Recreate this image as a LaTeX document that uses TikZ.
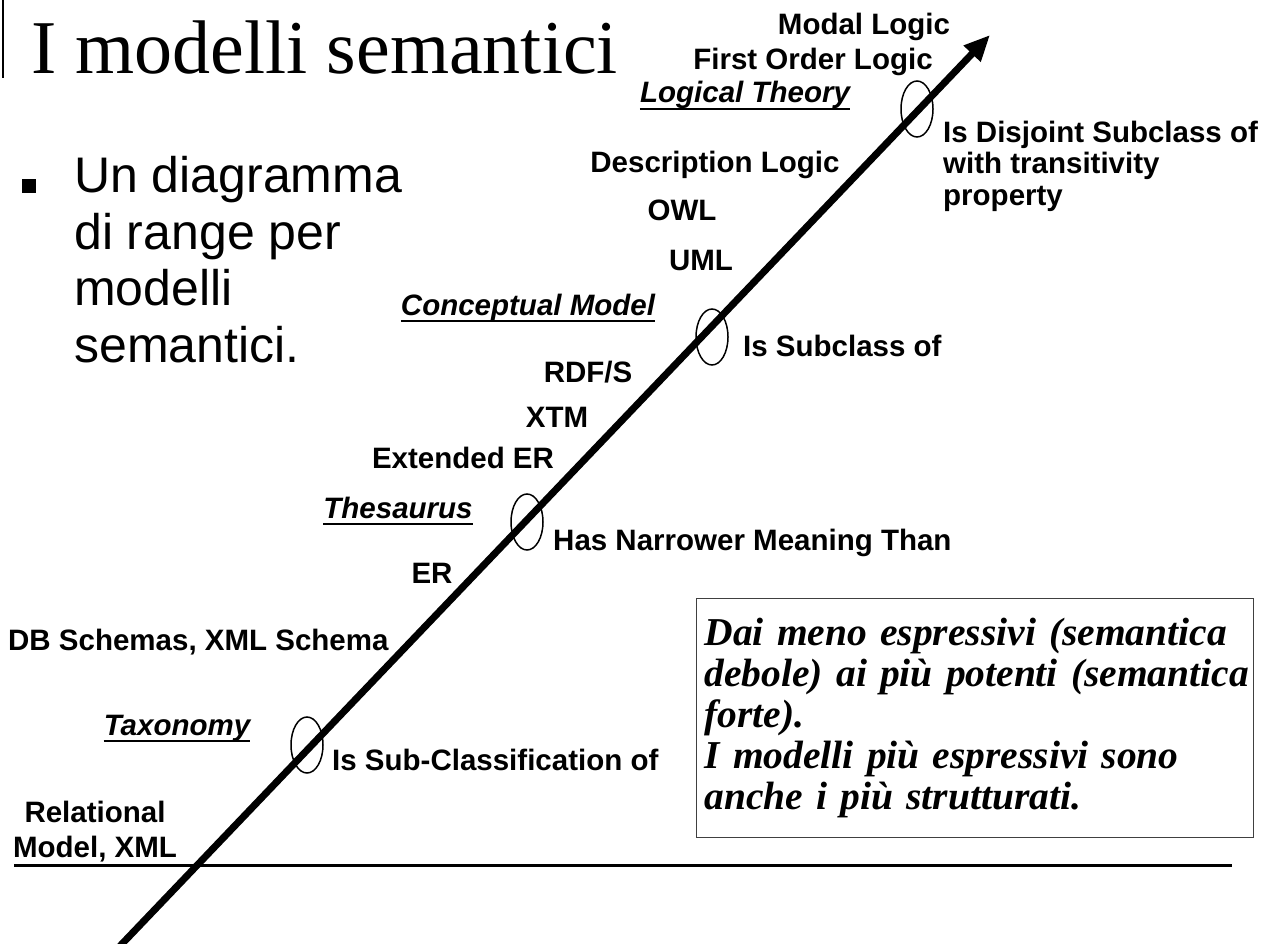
\documentclass[tikz,border=0pt]{standalone}
\usepackage{fontspec}
\setmainfont{Liberation Serif}
\newfontfamily\arialf{Liberation Sans}
\usetikzlibrary{shapes.geometric,arrows.meta}
\begin{document}
\begin{tikzpicture}[x=1pt,y=-1pt,
  lbl/.style={font=\arialf\bfseries\fontsize{29.5}{31.5}\selectfont, inner sep=0pt, anchor=base},
  lbll/.style={lbl, anchor=base west},
  ilbl/.style={lbl, font=\arialf\bfseries\itshape\fontsize{29.5}{31.5}\selectfont},
  ring/.style={draw, ellipse, line width=1.5pt, minimum width=32pt, minimum height=56pt, inner sep=0pt},
  uline/.style={line width=2.5pt},
  bigarrow/.style={line width=7pt, -{Triangle[length=26pt,width=22pt]}},
  bullettext/.style={font=\arialf\fontsize{50}{56.7}\selectfont, inner sep=0pt, anchor=north west, align=left},
  notebox/.style={draw=black!75, line width=1.3pt, anchor=north west, minimum width=557pt, minimum height=239pt,
     inner xsep=8pt, text width=541pt, align=left, font=\bfseries\itshape\fontsize{39.5}{41}\selectfont}
]
\useasboundingbox (0,0) rectangle (1277,944);
% title
\coordinate (bartop) at (3,0);
\coordinate (barbot) at (3,78);
\draw[line width=2pt] (bartop) -- (barbot);
\node[font=\fontsize{76}{84}\selectfont, inner sep=0pt, anchor=base west] (title) at (31,74) {I modelli semantici};
% bullet
\node[fill=black, minimum size=14pt, inner sep=0pt, anchor=south west] (bsq) at (22,193) {};
\node[bullettext] (btext) at (74,156) {Un diagramma\\di range per\\modelli\\semantici.};
% axes
\coordinate (hl1) at (14,865);
\coordinate (hl2) at (1232,865);
\draw[line width=3pt] (hl1) -- (hl2);
\coordinate (tail) at (120,946);
\coordinate (head) at (990,35);
\draw[bigarrow] (tail) -- (head);
% rings
\node[ring] (e1) at (917,109) {};
\node[ring] (e2) at (712,337) {};
\node[ring] (e3) at (527,522) {};
\node[ring] (e4) at (307,745) {};
% labels
\node[lbl] (modal) at (864,35) {Modal Logic};
\node[lbl] (fol) at (813,70) {First Order Logic};
\node[ilbl] (lt) at (745,103) {Logical Theory};
\draw[uline] ([yshift=-6pt]lt.base west) -- ([yshift=-6pt]lt.base east);
\node[lbl, anchor=north west, align=left] (disj) at (943,120.5) {Is Disjoint Subclass of\\with transitivity\\property};
\node[lbl] (dl) at (715,173) {Description Logic};
\node[lbl] (owl) at (682,221) {OWL};
\node[lbl] (uml) at (701,270) {UML};
\node[ilbl] (cm) at (528,315) {Conceptual Model};
\draw[uline] ([yshift=-6pt]cm.base west) -- ([yshift=-6pt]cm.base east);
\node[lbll] (sub) at (743,356) {Is Subclass of};
\node[lbl] (rdfs) at (588,382) {RDF/S};
\node[lbl] (xtm) at (557,427) {XTM};
\node[lbl] (eer) at (463,468) {Extended ER};
\node[ilbl] (th) at (398,518) {Thesaurus};
\draw[uline] ([yshift=-6pt]th.base west) -- ([yshift=-6pt]th.base east);
\node[lbll] (nar) at (553,550) {Has Narrower Meaning Than};
\node[lbl] (er) at (432,583) {ER};
\node[lbll] (db) at (8,650) {DB Schemas, XML Schema};
\node[ilbl] (tax) at (177,735) {Taxonomy};
\draw[uline] ([yshift=-6pt]tax.base west) -- ([yshift=-6pt]tax.base east);
\node[lbll] (subc) at (332,770) {Is Sub-Classification of};
\node[lbl, anchor=north, align=center, font=\arialf\bfseries\fontsize{29.5}{35}\selectfont] (rel) at (95,800.5) {Relational\\Model, XML};
% note box
\node[notebox] (note) at (696,598) {\mbox{Dai meno espressivi (semantica}\\\mbox{debole) ai più potenti (semantica}\\\mbox{forte).}\\\mbox{I modelli più espressivi sono}\\\mbox{anche i più strutturati.}};
\end{tikzpicture}
\end{document}
